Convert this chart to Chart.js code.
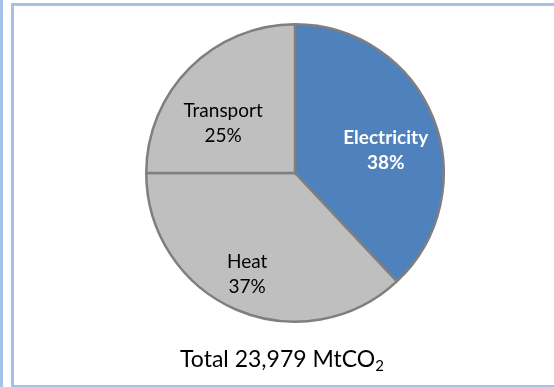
<!DOCTYPE html>
<html>
<head>
<meta charset="utf-8">
<script src="https://cdn.jsdelivr.net/npm/chart.js@4/dist/chart.umd.min.js"></script>
<style>
  html, body { margin: 0; padding: 0; background: #fff; }
  body { width: 554px; height: 387px; position: relative; overflow: hidden; font-family: Lato, "Open Sans", sans-serif; }
  #edge { position: absolute; left: 0; top: 0; width: 3px; height: 387px; background: #A7C1E8; }
  #frame { position: absolute; left: 11px; top: 3px; width: 560px; height: 379px; border: 3px solid #A7C1E8; }
  #grafica { position: absolute; left: 0; top: 0; }
  #total { position: absolute; left: 0; width: 564px; top: 344px; text-align: center; font-size: 23px; color: #000; }
  #total sub { font-size: 15px; vertical-align: -4px; line-height: 0; }
</style>
</head>
<body>
<div id="edge"></div>
<div id="frame"></div>
<canvas id="grafica" width="554" height="387"></canvas>
<div id="total">Total 23,979 MtCO<sub>2</sub></div>
<script>
// emisiones por sector (%)
const sectores = ['Electricity', 'Heat', 'Transport'];
const porcentajes = [38, 37, 25];
const colores = ['#4F81BD', '#BFBFBF', '#BFBFBF'];
const coloresTexto = ['#FFFFFF', '#000000', '#000000'];
const negrita = [true, false, false];

// donde van las etiquetas dentro de cada porcion: fraccion del radio y giro en grados
const etiquetaRadio = [0.63, 0.75, 0.59];
const etiquetaGiro = [7, 2, -10];

const etiquetas = {
  id: 'etiquetas',
  afterDatasetsDraw(chart) {
    const ctx = chart.ctx;
    const meta = chart.getDatasetMeta(0);
    meta.data.forEach(function(arc, i) {
      const p = arc.getProps(['x', 'y', 'startAngle', 'endAngle', 'outerRadius'], true);
      const ang = (p.startAngle + p.endAngle) / 2 + etiquetaGiro[i] * Math.PI / 180;
      const r = p.outerRadius * etiquetaRadio[i];
      const x = p.x + Math.cos(ang) * r;
      const y = p.y + Math.sin(ang) * r;
      ctx.save();
      ctx.fillStyle = coloresTexto[i];
      ctx.font = (negrita[i] ? 'bold ' : '') + '19px Lato, "Open Sans", sans-serif';
      ctx.textAlign = 'center';
      ctx.textBaseline = 'middle';
      ctx.fillText(sectores[i], x, y - 12);
      ctx.fillText(porcentajes[i] + '%', x, y + 13);
      ctx.restore();
    });
  }
};

const ctx = document.getElementById('grafica').getContext('2d');
const myChart = new Chart(ctx, {
  type: 'pie',
  data: {
    labels: sectores,
    datasets: [{
      data: porcentajes,
      backgroundColor: colores,
      borderColor: '#7F7F7F',
      borderWidth: 2.5
    }]
  },
  options: {
    responsive: false,
    animation: false,
    layout: {
      padding: { left: 145, right: 109, top: 23, bottom: 64 }
    },
    plugins: {
      legend: { display: false },
      tooltip: { enabled: false }
    }
  },
  plugins: [etiquetas]
});
</script>
</body>
</html>
